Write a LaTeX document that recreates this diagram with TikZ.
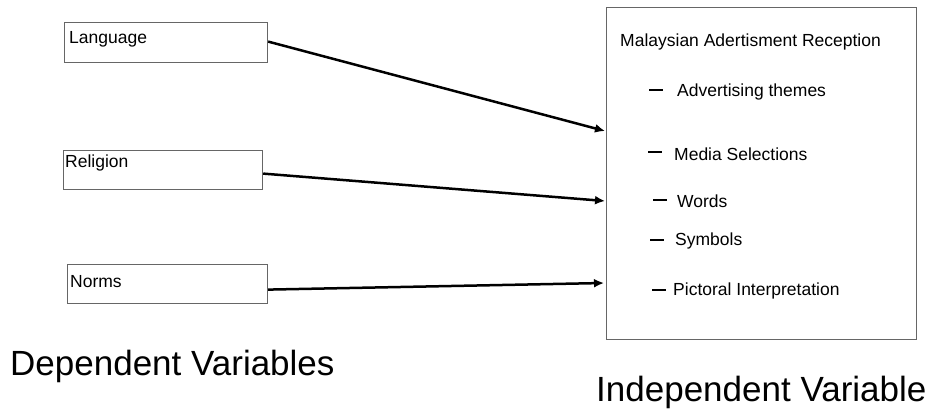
\documentclass[tikz,border=0pt]{standalone}
\usepackage{fontspec}
\setmainfont{Liberation Sans}
\usetikzlibrary{arrows.meta}
\begin{document}
\begin{tikzpicture}[x=1pt,y=-1pt,
  dvbox/.style={draw=black!60, line width=1.2pt, anchor=north west, inner sep=0pt},
  conn/.style={line width=2.5pt, -{Latex[length=10pt,width=9pt]}},
  item/.style={anchor=west, inner sep=0pt, font=\fontsize{17.5}{20}\selectfont},
  bar/.style={line width=2pt},
  big/.style={inner sep=0pt, anchor=west, font=\fontsize{35}{40}\selectfont}]
\useasboundingbox (0,0) rectangle (937,409);
% left boxes
\node[dvbox, minimum width=203pt, minimum height=40pt] (lang) at (64,22) {};
\node[item] (langt) at (69,39) {Language};
\node[dvbox, minimum width=199pt, minimum height=39pt] (rel) at (63,150) {};
\node[item] (relt) at (65,163) {Religion};
\node[dvbox, minimum width=200pt, minimum height=39pt] (norm) at (67,264) {};
\node[item] (normt) at (70,282) {Norms};
% right box
\node[dvbox, minimum width=310pt, minimum height=332pt] (rec) at (606,7) {};
\node[item] (title) at (620,42) {Malaysian Adertisment Reception};
\node[item] (i1) at (677,92) {Advertising themes};
\node[item] (i2) at (674,154) {Media Selections};
\node[item] (i3) at (677,201) {Words};
\node[item] (i4) at (675,241) {Symbols};
\node[item] (i5) at (673,291) {Pictoral Interpretation};
\draw[bar] (649,90) -- (663,90);
\draw[bar] (648,152) -- (662,152);
\draw[bar] (653,200) -- (667,200);
\draw[bar] (650,240) -- (664,240);
\draw[bar] (652,290) -- (666,290);
% arrow ends on the left side of the reception box
\coordinate (t1) at (605,131);
\coordinate (t2) at (605,201);
\coordinate (t3) at (604,283);
\draw[conn] ([yshift=1pt]lang.east) -- (t1);
\draw[conn] ([yshift=-3.5pt]rel.east) -- (t2);
\draw[conn] ([yshift=-5.5pt]norm.east) -- (t3);
% captions
\node[big] (dep) at (10,366) {Dependent Variables};
\node[big] (ind) at (596,392) {Independent Variable};
\end{tikzpicture}
\end{document}
